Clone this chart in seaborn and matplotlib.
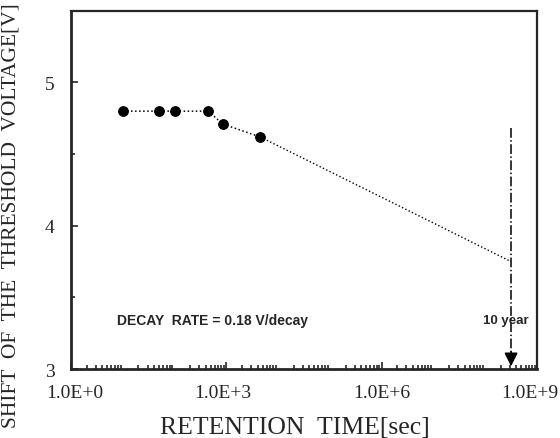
import numpy as np
import pandas as pd
import matplotlib
matplotlib.use("Agg")
import matplotlib.pyplot as plt
import matplotlib.ticker as mticker
import matplotlib.transforms as mtransforms
import seaborn as sns

# measured points
retention_time = [10, 50, 100, 450, 850, 4500]
vth_shift = [4.80, 4.80, 4.80, 4.80, 4.71, 4.62]

# extrapolation to 10 years
ten_year = 3.15e8
extrap_time = [4500, ten_year]
extrap_vth = [4.62, 3.75]

x_ticks = [1e0, 1e3, 1e6, 1e9]
x_ticklabels = ["1.0E+0", "1.0E+3", "1.0E+6", "1.0E+9"]
y_ticks = [3, 4, 5]

sns.set_style("ticks")
plt.rcParams["font.family"] = ["Liberation Serif", "DejaVu Serif"]

df = pd.DataFrame({"t": retention_time, "v": vth_shift})

fig = plt.figure(figsize=(5.6, 4.39), dpi=100)
ax = fig.add_axes([0.127, 0.157, 0.832, 0.816])

sns.lineplot(data=df, x="t", y="v", ax=ax, color="black", linestyle=":",
             linewidth=1.1, marker="o", markersize=7, markeredgecolor="black")
ax.plot(extrap_time, extrap_vth, color="black", linestyle=":", linewidth=1.0)

# 10 year marker
ax.plot([ten_year, ten_year], [4.68, 3.12], color="black", linestyle="-.", linewidth=1.1)
ax.annotate("", xy=(ten_year, 3.0), xytext=(ten_year, 3.14),
            arrowprops=dict(arrowstyle="-|>", color="black", lw=1.2, mutation_scale=20))

ax.text(7.7, 3.34, "DECAY  RATE = 0.18 V/decay", fontsize=10, fontweight="bold",
        family="Liberation Sans", va="center")
ax.text(ten_year * 0.8, 3.34, "10 year", fontsize=9.5, fontweight="bold",
        family="Liberation Sans", va="center", ha="center")

ax.set_xscale("log")
ax.set_xlim(1e0, 1e9)
ax.set_ylim(3, 5.5)
ax.set_xticks(x_ticks)
ax.set_xticklabels(x_ticklabels)
ax.xaxis.set_minor_locator(mticker.LogLocator(base=10, subs=np.arange(2, 10), numticks=20))
ax.xaxis.set_minor_formatter(mticker.NullFormatter())
ax.set_yticks(y_ticks)
ax.yaxis.set_minor_locator(mticker.MultipleLocator(0.5))

ax.tick_params(which="both", direction="in", labelsize=14, width=1.2)
ax.tick_params(which="major", length=5)
ax.tick_params(which="minor", length=3)
ax.tick_params(axis="x", pad=11)
ax.tick_params(axis="y", pad=12)

# small offsets of the tick labels as in the scan
shifts = [4, -4, 0, -7]
for lab, dx in zip(ax.get_xticklabels(), shifts):
    lab.set_transform(lab.get_transform() +
                      mtransforms.ScaledTranslation(dx / 100, 0, fig.dpi_scale_trans))

for s in ["left", "bottom"]:
    ax.spines[s].set_linewidth(2)
for s in ["top", "right"]:
    ax.spines[s].set_linewidth(1.6)

ax.set_xlabel("RETENTION  TIME[sec]", fontsize=18.5)
ax.xaxis.set_label_coords(0.48, -0.132)
ax.set_ylabel("SHIFT  OF  THE  THRESHOLD  VOLTAGE[V]", fontsize=15.5)
ax.yaxis.set_label_coords(-0.108, 0.43)

fig.savefig("out.png", dpi=100)
